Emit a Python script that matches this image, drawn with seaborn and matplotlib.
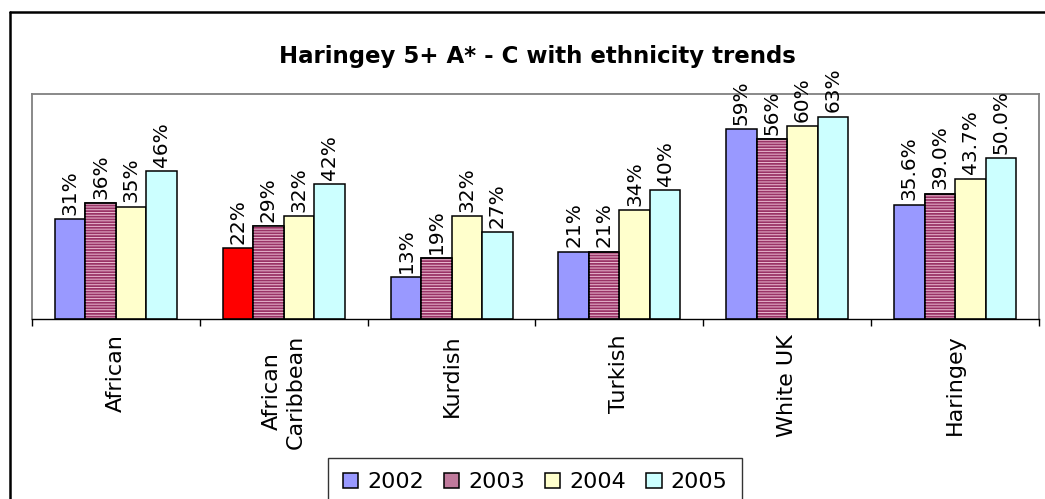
import matplotlib
matplotlib.use('Agg')
import matplotlib.pyplot as plt
import seaborn as sns
import pandas as pd
from matplotlib.lines import Line2D
from matplotlib.patches import Rectangle, Patch

# ---- data ----
categories = ['African', 'African\nCaribbean', 'Kurdish', 'Turkish', 'White UK', 'Haringey']
years = ['2002', '2003', '2004', '2005']
v2002 = [31, 22, 13, 21, 59, 35.6]
v2003 = [36, 29, 19, 21, 56, 39.0]
v2004 = [35, 32, 32, 34, 60, 43.7]
v2005 = [46, 42, 27, 40, 63, 50.0]
lab2002 = ['31%', '22%', '13%', '21%', '59%', '35.6%']
lab2003 = ['36%', '29%', '19%', '21%', '56%', '39.0%']
lab2004 = ['35%', '32%', '32%', '34%', '60%', '43.7%']
lab2005 = ['46%', '42%', '27%', '40%', '63%', '50.0%']
title = 'Haringey 5+ A* - C with ethnicity trends'

values = [v2002, v2003, v2004, v2005]
labels = [lab2002, lab2003, lab2004, lab2005]
colors = {'2002': '#9999FF', '2003': '#993366', '2004': '#FFFFCC', '2005': '#CCFFFF'}
hatch_col = '#EBBBD2'

rows = []
for y, vals in zip(years, values):
    for c, v in zip(categories, vals):
        rows.append({'category': c, 'year': y, 'value': v})
df = pd.DataFrame(rows)

sns.set_style('white')
plt.rcParams['font.family'] = ['DejaVu Sans']
plt.rcParams['text.color'] = 'black'
plt.rcParams['xtick.color'] = 'black'
plt.rcParams['hatch.linewidth'] = 0.7

W, H = 1045, 499
fig = plt.figure(figsize=(W / 100, H / 100), dpi=100)
ax = fig.add_axes([32 / W, 1 - 319 / H, (1039 - 32) / W, (319 - 94) / H])

sns.barplot(data=df, x='category', y='value', hue='year', order=categories,
            hue_order=years, palette=colors, width=0.727, gap=0, saturation=1,
            edgecolor='black', linewidth=1.1, errorbar=None, legend=False, ax=ax)

# red highlight bar (African Caribbean 2002)
ax.containers[0][1].set_facecolor('#FF0000')

# striped 2003 bars
for p in ax.containers[1]:
    r = Rectangle(p.get_xy(), p.get_width(), p.get_height(), facecolor='none',
                  edgecolor=hatch_col, lw=0, hatch='------', zorder=p.get_zorder() + 0.1)
    try:
        r.set_hatchcolor(hatch_col)
    except Exception:
        pass
    ax.add_patch(r)
    ax.add_patch(Rectangle(p.get_xy(), p.get_width(), p.get_height(), facecolor='none',
                           edgecolor='black', lw=1.1, zorder=p.get_zorder() + 0.2))

# value labels
for cont, labs in zip(ax.containers, labels):
    for p, t in zip(cont, labs):
        ax.annotate(t, (p.get_x() + p.get_width() / 2, p.get_height()),
                    xytext=(0, 3), textcoords='offset points', rotation=90,
                    ha='center', va='bottom', fontsize=14.5, color='black',
                    annotation_clip=False)

ax.set_ylim(0, 70)
ax.set_xlim(-0.5, 5.5)
ax.set_yticks([])
ax.set_xlabel('')
ax.set_ylabel('')
ax.set_xticks(range(len(categories)))
ax.set_xticklabels(categories, rotation=90, va='top', ha='center',
                   multialignment='center', fontsize=16, color='black')
ax.set_xticks([i - 0.5 for i in range(len(categories) + 1)], minor=True)
ax.tick_params(axis='x', which='major', length=0, pad=11)
ax.tick_params(axis='x', which='minor', length=5, width=1, color='black',
               direction='out', bottom=True)
for s in ['left', 'top', 'right']:
    ax.spines[s].set_color('#808080')
    ax.spines[s].set_linewidth(1.3)
ax.spines['bottom'].set_color('black')
ax.spines['bottom'].set_linewidth(1)

# title
fig.text(537 / W, 1 - 57 / H, title, ha='center', va='center',
         fontsize=16.5, fontweight='bold', color='black')

# legend
handles = []
for y in years:
    kw = dict(facecolor=colors[y], edgecolor='black', lw=1.1)
    if y == '2003':
        kw['facecolor'] = '#C07A9C'
    handles.append(Patch(**kw))
leg = fig.legend(handles, years, loc='upper center', bbox_to_anchor=(535 / W, 1 - 458 / H),
                 ncol=4, frameon=True, fontsize=16, handlelength=0.7, handleheight=0.7,
                 handletextpad=0.4, columnspacing=0.9, fancybox=False, borderpad=0.65,
                 borderaxespad=0, edgecolor='black', labelcolor='black')
leg.get_frame().set_linewidth(1)

# outer frame (left and top edges)
fig.add_artist(Line2D([10 / W, 10 / W], [0, 1 - 12 / H], transform=fig.transFigure,
                      color='black', lw=1.8))
fig.add_artist(Line2D([10 / W, 1], [1 - 12 / H, 1 - 12 / H], transform=fig.transFigure,
                      color='black', lw=1.8))

fig.savefig('out.png', dpi=100)
